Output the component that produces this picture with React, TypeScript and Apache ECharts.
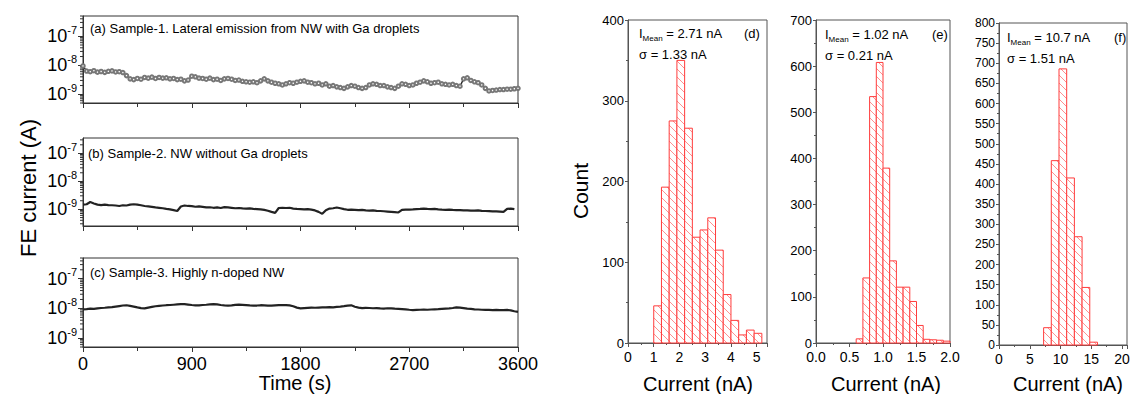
import React, { useEffect, useRef } from "react";
import * as echarts from "echarts";

// ---------- Time traces (nA), one point every 30 s ----------
const TIME_STEP_S = 30;
const sampleA = [
  9.5, 6.3, 6.0, 6.5, 5.8, 6.1, 5.7, 6.2, 6.4, 5.9, 6.0, 5.6, 4.4, 3.4, 3.2, 3.5, 3.3, 3.8, 3.6, 3.9,
  3.5, 3.8, 3.6, 3.7, 3.4, 3.5, 3.2, 3.3, 2.9, 3.1, 4.2, 4.0, 3.6, 3.5, 3.3, 3.6, 3.2, 3.3, 3.0, 3.4,
  3.5, 3.3, 3.0, 3.1, 2.8, 2.7, 2.6, 2.7, 2.5, 2.9, 3.4, 2.9, 2.6, 2.4, 2.3, 2.1, 2.3, 2.5, 2.4, 2.6,
  2.8, 2.9, 2.6, 2.5, 2.3, 2.4, 2.1, 2.3, 1.9, 2.0, 1.8, 1.7, 1.6, 1.8, 2.0, 1.9, 1.7, 1.6, 1.7, 2.1,
  2.3, 2.2, 2.0, 2.0, 1.8, 1.7, 1.6, 1.9, 2.3, 2.2, 2.0, 2.1, 2.4, 2.6, 2.9, 2.7, 2.4, 2.5, 2.6, 2.3,
  2.2, 2.1, 2.2, 2.0, 1.9, 3.4, 3.7, 3.0, 2.7, 2.5, 2.1, 1.6, 1.3, 1.35, 1.4, 1.45, 1.45, 1.5, 1.5, 1.55,
  1.6,
];
const sampleB = [
  1.45, 1.5, 1.8, 1.6, 1.45, 1.4, 1.45, 1.4, 1.38, 1.35, 1.3, 1.38, 1.35, 1.45, 1.5, 1.45, 1.38, 1.3, 1.25, 1.2,
  1.15, 1.12, 1.08, 1.02, 0.98, 0.92, 0.86, 1.25, 1.35, 1.3, 1.28, 1.22, 1.25, 1.2, 1.15, 1.17, 1.12, 1.15, 1.1, 1.18,
  1.15, 1.12, 1.08, 1.1, 1.06, 1.04, 1.06, 1.02, 1.0, 0.98, 0.94, 0.88, 0.8, 0.74, 1.1, 1.12, 1.1, 1.12, 1.05, 1.02,
  1.0, 0.98, 1.0, 0.96, 0.9, 0.8, 0.68, 0.92, 1.05, 1.08, 1.15, 1.08, 1.0, 0.95, 0.97, 0.95, 0.92, 0.94, 0.9, 0.88,
  0.9, 0.87, 0.86, 0.84, 0.82, 0.8, 0.78, 0.76, 0.95, 0.96, 0.97, 0.98, 1.0, 1.02, 1.05, 1.02, 1.0, 1.02, 0.98, 0.96,
  0.95, 0.96, 0.94, 0.93, 0.92, 0.9, 0.91, 0.89, 0.88, 0.9, 0.87, 0.86, 0.85, 0.84, 0.83, 0.82, 0.8, 1.02, 1.05, 1.0,
];
const sampleC = [
  9.3, 9.5, 9.8, 9.6, 10.0, 10.3, 10.5, 10.8, 11.0, 11.5, 12.0, 12.5, 12.8, 12.2, 11.5, 10.8, 10.2, 10.0, 10.6, 11.2,
  11.8, 12.2, 12.5, 12.8, 13.0, 13.3, 13.6, 13.9, 14.0, 13.5, 13.0, 12.7, 12.6, 13.0, 13.3, 13.7, 14.0, 13.6, 13.0, 12.6,
  12.4, 12.7, 13.2, 13.5, 13.2, 12.9, 12.6, 12.4, 12.5, 12.8, 12.6, 12.4, 12.5, 12.7, 12.9, 13.0, 12.8, 12.6, 11.8, 10.6,
  10.0, 10.2, 10.4, 10.6, 10.5, 10.7, 10.8, 10.8, 11.0, 10.9, 11.2, 11.5, 11.9, 12.4, 12.7, 11.4, 10.6, 10.2, 10.4, 10.3,
  10.1, 10.2, 10.0, 9.9, 10.1, 10.0, 9.8, 9.7, 9.5, 9.3, 9.0, 8.8, 8.9, 9.0, 9.1, 9.0, 9.2, 9.3, 9.4, 9.6,
  9.8, 10.0, 10.3, 10.8, 10.6, 10.2, 9.8, 9.6, 9.3, 9.2, 9.0, 8.9, 8.9, 8.8, 8.9, 8.8, 8.7, 8.9, 8.6, 8.0,
  7.6,
];
const timeTicks = [0, 900, 1800, 2700, 3600];
const decadeTicks = [1e-9, 1e-8, 1e-7];
const decadeExponents = [-10, -9, -8, -7];

// ---------- Histograms ----------
const histDLow = [1.0, 1.3, 1.6, 1.9, 2.2, 2.5, 2.8, 3.1, 3.4, 3.7, 4.0, 4.3, 4.6, 4.9];
const histDCount = [46, 193, 275, 350, 266, 131, 140, 155, 115, 60, 28, 10, 16, 12];
const histDWidth = 0.3;
const histELow = [0.6, 0.7, 0.8, 0.9, 1.0, 1.1, 1.2, 1.3, 1.4, 1.5, 1.6, 1.7, 1.8, 1.9];
const histECount = [9, 141, 534, 608, 379, 178, 121, 121, 90, 38, 8, 7, 6, 4];
const histEWidth = 0.1;
const histFLow = [7.25, 8.5, 9.75, 11.0, 12.25, 13.5, 14.75];
const histFCount = [43, 458, 686, 415, 269, 143, 7];
const histFWidth = 1.25;

const statsD = { mean: "2.71", sigma: "1.33", tag: "(d)" };
const statsE = { mean: "1.02", sigma: "0.21", tag: "(e)" };
const statsF = { mean: "10.7", sigma: "1.51", tag: "(f)" };

const FONT = "'Liberation Sans', Arial, Helvetica, sans-serif";
const AXIS_COLOR = "#333";
const BAR_RED = "#ff3c3c";
const HATCH_RED = "#ff7474";
const HATCH_STEP = 8;

function toSeries(vals: number[]) {
  return vals.map((v, i) => [i * TIME_STEP_S, v * 1e-9]);
}

function minorLogValues(min: number, max: number) {
  const out: number[][] = [];
  for (const e of decadeExponents) {
    for (let m = 2; m <= 9; m++) {
      const v = m * Math.pow(10, e);
      if (v >= min && v <= max) out.push([0, v]);
    }
  }
  return out;
}

function logLabel(v: number) {
  const e = Math.log10(v);
  const r = Math.round(e);
  if (Math.abs(e - r) > 1e-6) return "";
  return `{base|10}{sup|${r}}`;
}

function renderHatchedBar(_params: any, api: any) {
  const lo = api.value(0);
  const hi = api.value(1);
  const cnt = api.value(2);
  const pTop = api.coord([lo, cnt]);
  const pBot = api.coord([hi, 0]);
  const x0 = pTop[0];
  const y0 = pTop[1];
  const x1 = pBot[0];
  const y1 = pBot[1];
  const children: any[] = [
    { type: "rect", shape: { x: x0, y: y0, width: x1 - x0, height: y1 - y0 }, style: { fill: "#fff", stroke: "none" } },
  ];
  const cStart = Math.ceil((y0 - x1) / HATCH_STEP) * HATCH_STEP;
  for (let c = cStart; c <= y1 - x0; c += HATCH_STEP) {
    const xs = Math.max(x0, y0 - c);
    const xe = Math.min(x1, y1 - c);
    if (xe - xs > 0.4) {
      children.push({
        type: "line",
        shape: { x1: xs, y1: xs + c, x2: xe, y2: xe + c },
        style: { stroke: HATCH_RED, lineWidth: 0.8 },
      });
    }
  }
  children.push({
    type: "rect",
    shape: { x: x0, y: y0, width: x1 - x0, height: y1 - y0 },
    style: { fill: "none", stroke: BAR_RED, lineWidth: 1 },
  });
  return { type: "group", children };
}

export default function App() {
  const ref = useRef<HTMLDivElement>(null);

  useEffect(() => {
    if (!ref.current) return;
    const chart = echarts.init(ref.current, undefined, { renderer: "svg" });

    const leftGrids = [
      { left: 83, top: 16, width: 435, height: 87, min: 5e-10, max: 5e-7 },
      { left: 83, top: 138, width: 435, height: 88, min: 2.5e-10, max: 3.5e-7 },
      { left: 83, top: 258, width: 435, height: 89, min: 5e-10, max: 5e-7 },
    ];
    const histGrids = [
      { left: 628, top: 20, width: 139, height: 323, xMin: 0, xMax: 5.4, xInt: 1, yMax: 400, yInt: 100, dec: 0, yFont: 13 },
      { left: 816, top: 20, width: 134, height: 323, xMin: 0, xMax: 2.0, xInt: 0.5, yMax: 700, yInt: 100, dec: 1, yFont: 13 },
      { left: 999, top: 23, width: 128, height: 322, xMin: 0, xMax: 20.8, xInt: 5, yMax: 800, yInt: 50, dec: 0, yFont: 12 },
    ];

    const grid: any[] = [];
    const xAxis: any[] = [];
    const yAxis: any[] = [];
    const series: any[] = [];

    const gridBase = { show: true, borderColor: AXIS_COLOR, borderWidth: 1, backgroundColor: "transparent", containLabel: false };

    leftGrids.forEach((g, i) => {
      grid.push({ ...gridBase, left: g.left, top: g.top, width: g.width, height: g.height });
      xAxis.push({
        type: "value",
        gridIndex: i,
        min: timeTicks[0],
        max: timeTicks[timeTicks.length - 1],
        interval: 900,
        axisLine: { show: true, lineStyle: { color: AXIS_COLOR } },
        axisTick: { show: true, length: 5, lineStyle: { color: AXIS_COLOR } },
        minorTick: { show: true, splitNumber: 2, length: 4, lineStyle: { color: AXIS_COLOR } },
        axisLabel: {
          show: i === 2,
          fontSize: 18,
          color: "#000",
          fontFamily: FONT,
          margin: 8,
          formatter: (v: number) => String(Math.round(v)),
        },
        splitLine: { show: false },
        minorSplitLine: { show: false },
      });
      yAxis.push({
        type: "log",
        logBase: 10,
        gridIndex: i,
        min: g.min,
        max: g.max,
        axisLine: { show: true, lineStyle: { color: AXIS_COLOR } },
        axisTick: { show: true, length: 5, customValues: decadeTicks, lineStyle: { color: AXIS_COLOR } },
        axisLabel: {
          customValues: decadeTicks,
          formatter: logLabel,
          color: "#000",
          fontFamily: FONT,
          margin: 6,
          rich: {
            base: { fontSize: 18, fontFamily: FONT, color: "#000", lineHeight: 24, verticalAlign: "middle" },
            sup: { fontSize: 11, fontFamily: FONT, color: "#000", lineHeight: 12, verticalAlign: "top" },
          },
        },
        splitLine: { show: false },
        minorTick: { show: false },
      });
    });

    const traces = [sampleA, sampleB, sampleC];
    traces.forEach((vals, i) => {
      series.push({
        type: "line",
        xAxisIndex: i,
        yAxisIndex: i,
        data: toSeries(vals),
        symbol: i === 0 ? "emptyCircle" : "none",
        symbolSize: 3.5,
        itemStyle: { color: "#777", borderColor: "#333", borderWidth: 0.9 },
        lineStyle: { color: "#222", width: i === 0 ? 1.4 : 2.2 },
        silent: true,
      });
      const g = leftGrids[i];
      series.push({
        type: "custom",
        xAxisIndex: i,
        yAxisIndex: i,
        data: minorLogValues(g.min, g.max),
        clip: false,
        silent: true,
        renderItem: (_p: any, api: any) => {
          const pt = api.coord([0, api.value(1)]);
          return {
            type: "line",
            shape: { x1: pt[0] - 3, y1: pt[1], x2: pt[0], y2: pt[1] },
            style: { stroke: AXIS_COLOR, lineWidth: 1 },
          };
        },
      });
    });

    const hists = [
      { low: histDLow, count: histDCount, w: histDWidth },
      { low: histELow, count: histECount, w: histEWidth },
      { low: histFLow, count: histFCount, w: histFWidth },
    ];

    histGrids.forEach((g, k) => {
      const gi = 3 + k;
      grid.push({ ...gridBase, borderColor: "#555", left: g.left, top: g.top, width: g.width, height: g.height });
      xAxis.push({
        type: "value",
        gridIndex: gi,
        min: g.xMin,
        max: g.xMax,
        interval: g.xInt,
        axisLine: { show: true, lineStyle: { color: "#555" } },
        axisTick: { show: true, length: 4, lineStyle: { color: "#555" } },
        minorTick: { show: true, splitNumber: 2, length: 2, lineStyle: { color: "#555" } },
        axisLabel: {
          showMaxLabel: Math.abs(g.xMax / g.xInt - Math.round(g.xMax / g.xInt)) < 1e-6,
          fontSize: 14,
          color: "#000",
          fontFamily: FONT,
          margin: 7,
          formatter: (v: number) => v.toFixed(g.dec),
        },
        splitLine: { show: false },
        minorSplitLine: { show: false },
      });
      yAxis.push({
        type: "value",
        gridIndex: gi,
        min: 0,
        max: g.yMax,
        interval: g.yInt,
        axisLine: { show: true, lineStyle: { color: "#555" } },
        axisTick: { show: true, length: 3, lineStyle: { color: "#555" } },
        minorTick: { show: true, splitNumber: 2, length: 2, lineStyle: { color: "#555" } },
        axisLabel: { fontSize: g.yFont, color: "#000", fontFamily: FONT, margin: 4 },
        splitLine: { show: false },
        minorSplitLine: { show: false },
      });
      const h = hists[k];
      series.push({
        type: "custom",
        xAxisIndex: gi,
        yAxisIndex: gi,
        dimensions: ["low", "high", "count"],
        encode: { x: [0, 1], y: 2 },
        data: h.low.map((l, i) => [l, l + h.w, h.count[i]]),
        silent: true,
        renderItem: renderHatchedBar,
      });
    });

    const txt = (text: string, x: number, y: number, size: number, extra: any = {}) => ({
      type: "text",
      x,
      y,
      silent: true,
      ...extra,
      style: {
        text,
        fontSize: size,
        fontFamily: FONT,
        fill: "#000",
        textVerticalAlign: "middle",
        ...(extra.style || {}),
      },
    });

    const statText = (s: any, x: number, y: number, tagX: number) => [
      {
        type: "text",
        x,
        y,
        silent: true,
        style: {
          text: `I{sub|Mean} = ${s.mean} nA`,
          fontSize: 13,
          fontFamily: FONT,
          fill: "#000",
          lineHeight: 18,
          textVerticalAlign: "middle",
          rich: {
            sub: { fontSize: 8, fontFamily: FONT, fill: "#000", lineHeight: 18, verticalAlign: "bottom" },
          },
        },
      },
      txt(`σ = ${s.sigma} nA`, x, y + 21, 13),
      txt(s.tag, tagX, y, 13),
    ];

    const graphic: any[] = [
      txt("(a) Sample-1. Lateral emission from NW with Ga droplets", 90, 28, 13),
      txt("(b) Sample-2. NW without Ga droplets", 88, 153, 13),
      txt("(c) Sample-3. Highly n-doped NW", 90, 272, 13),
      txt("Time (s)", 295, 383, 20, { style: { textAlign: "center" } }),
      txt("FE current (A)", 28, 188, 22, { rotation: Math.PI / 2, style: { textAlign: "center" } }),
      txt("Count", 580, 191, 21, { rotation: Math.PI / 2, style: { textAlign: "center" } }),
      txt("Current (nA)", 698, 384, 20, { style: { textAlign: "center" } }),
      txt("Current (nA)", 886, 384, 20, { style: { textAlign: "center" } }),
      txt("Current (nA)", 1068, 384, 20, { style: { textAlign: "center" } }),
      ...statText(statsD, 639, 33, 744),
      ...statText(statsE, 825, 34, 932),
      ...statText(statsF, 1007, 37, 1114),
    ];

    chart.setOption({
      animation: false,
      backgroundColor: "#ffffff",
      textStyle: { fontFamily: FONT },
      grid,
      xAxis,
      yAxis,
      series,
      graphic,
    });

    return () => chart.dispose();
  }, []);

  return (
    <div
      ref={ref}
      style={{ position: "fixed", left: 0, top: 0, width: 1137, height: 394, background: "#fff" }}
    />
  );
}
